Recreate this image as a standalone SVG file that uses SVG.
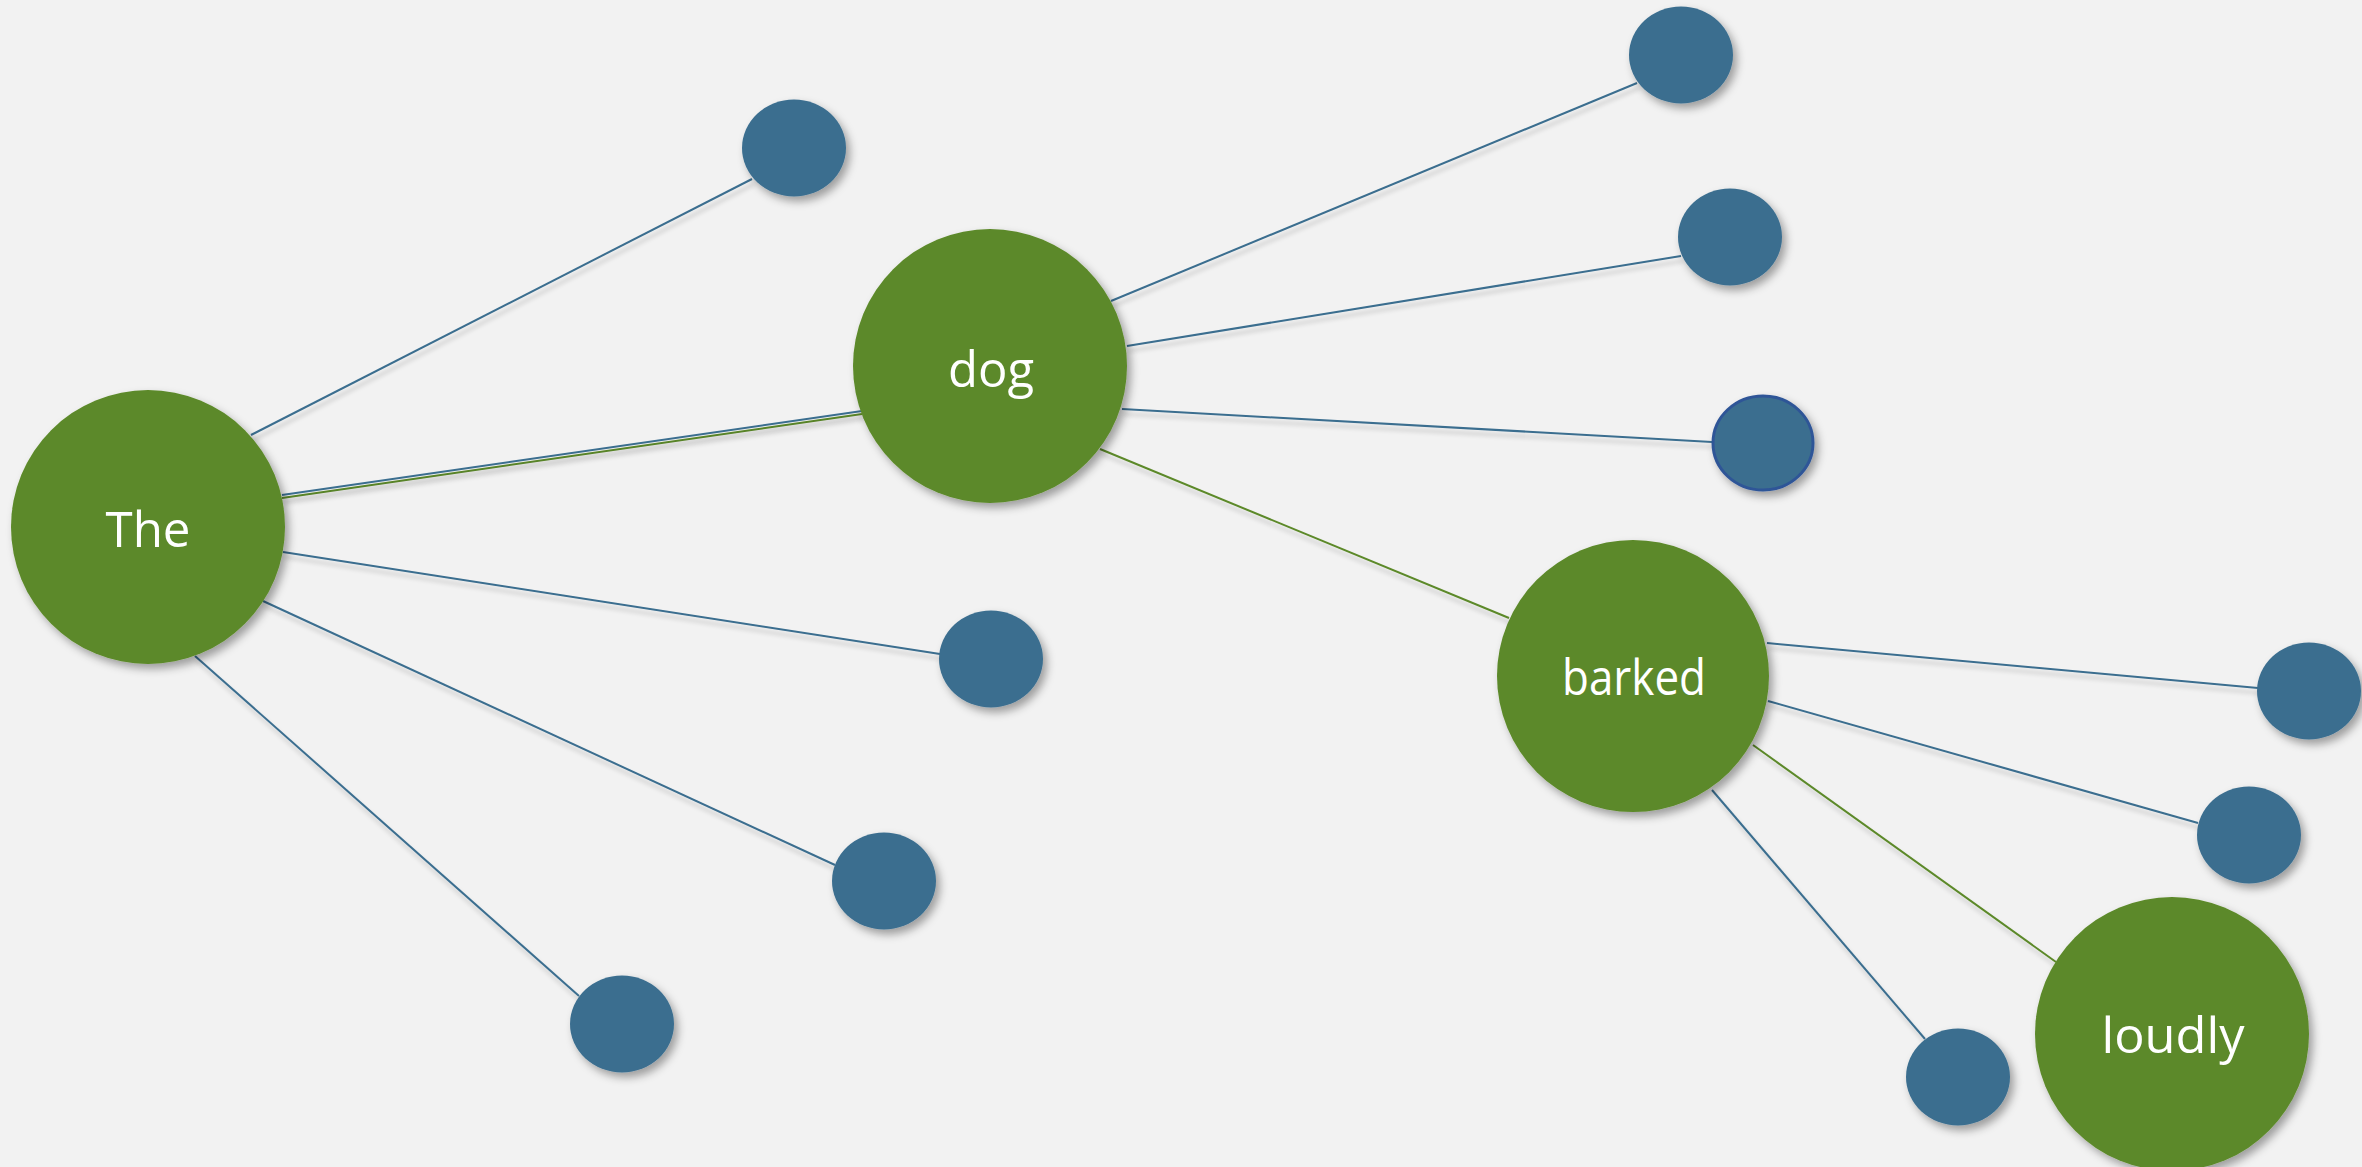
<svg xmlns="http://www.w3.org/2000/svg" width="2362" height="1167" viewBox="0 0 2362 1167">
<style>
.bg{fill:#F2F2F2}
.edge{stroke:#3B6E8F;stroke-width:2;fill:none;filter:url(#lsh)}
.gedge{stroke:#5C8929;stroke-width:2;fill:none;filter:url(#lsh)}
.big{fill:#5C8929;filter:url(#sh)}
.small{fill:#3B6E8F;filter:url(#sh)}
.lbl{font-family:"Open Sans","Noto Sans","Liberation Sans",sans-serif;font-size:50px;fill:#FFFFFF;text-anchor:middle}
</style>
<defs>
<filter id="sh" x="-20%" y="-20%" width="150%" height="150%">
<feDropShadow dx="4" dy="5" stdDeviation="4" flood-color="#000" flood-opacity="0.35"/>
</filter>
<filter id="lsh" x="-5%" y="-5%" width="110%" height="110%" filterUnits="userSpaceOnUse">
<feDropShadow dx="2" dy="5" stdDeviation="2" flood-color="#000" flood-opacity="0.2"/>
</filter>
</defs>
<rect class="bg" x="0" y="0" width="2362" height="1167"/>
<g id="connectors">
<line class="edge" x1="251" y1="435" x2="752" y2="179"/>
<line class="gedge" x1="282" y1="498" x2="862" y2="414"/>
<line class="edge" x1="282" y1="495" x2="862" y2="411"/>
<line class="edge" x1="283" y1="552" x2="940" y2="654"/>
<line class="edge" x1="263" y1="601" x2="835" y2="865"/>
<line class="edge" x1="195" y1="656" x2="579" y2="996"/>
<line class="edge" x1="1111" y1="301" x2="1637" y2="83"/>
<line class="edge" x1="1127" y1="346" x2="1681" y2="256"/>
<line class="edge" x1="1122" y1="409" x2="1712" y2="442"/>
<line class="gedge" x1="1100" y1="449" x2="1509" y2="618"/>
<line class="edge" x1="1767" y1="643" x2="2258" y2="688"/>
<line class="edge" x1="1768" y1="701" x2="2198" y2="823"/>
<line class="gedge" x1="1753" y1="745" x2="2056" y2="962"/>
<line class="edge" x1="1712" y1="790" x2="1925" y2="1039"/>
</g>
<g id="n-the"><circle class="big" cx="148" cy="527" r="137"/><text class="lbl" x="148" y="547" textLength="85" lengthAdjust="spacingAndGlyphs">The</text></g>
<g id="n-dog"><circle class="big" cx="990" cy="366" r="137"/><text class="lbl" x="991" y="387" textLength="86" lengthAdjust="spacingAndGlyphs">dog</text></g>
<g id="n-barked"><circle class="big" cx="1633" cy="676" r="136"/><text class="lbl" x="1634" y="695" textLength="144" lengthAdjust="spacingAndGlyphs">barked</text></g>
<g id="n-loudly"><circle class="big" cx="2172" cy="1034" r="137"/><text class="lbl" x="2173" y="1053" textLength="143" lengthAdjust="spacingAndGlyphs">loudly</text></g>
<g id="s1"><ellipse class="small" cx="794" cy="148" rx="52" ry="48.5"/></g>
<g id="s2"><ellipse class="small" cx="991" cy="659" rx="52" ry="48.5"/></g>
<g id="s3"><ellipse class="small" cx="884" cy="881" rx="52" ry="48.5"/></g>
<g id="s4"><ellipse class="small" cx="622" cy="1024" rx="52" ry="48.5"/></g>
<g id="s5"><ellipse class="small" cx="1681" cy="55" rx="52" ry="48.5"/></g>
<g id="s6"><ellipse class="small" cx="1730" cy="237" rx="52" ry="48.5"/></g>
<g id="s7"><ellipse class="small" cx="1763" cy="443" rx="50" ry="47" stroke="#2F5597" stroke-width="3"/></g>
<g id="s8"><ellipse class="small" cx="2309" cy="691" rx="52" ry="48.5"/></g>
<g id="s9"><ellipse class="small" cx="2249" cy="835" rx="52" ry="48.5"/></g>
<g id="s10"><ellipse class="small" cx="1958" cy="1077" rx="52" ry="48.5"/></g>
</svg>
